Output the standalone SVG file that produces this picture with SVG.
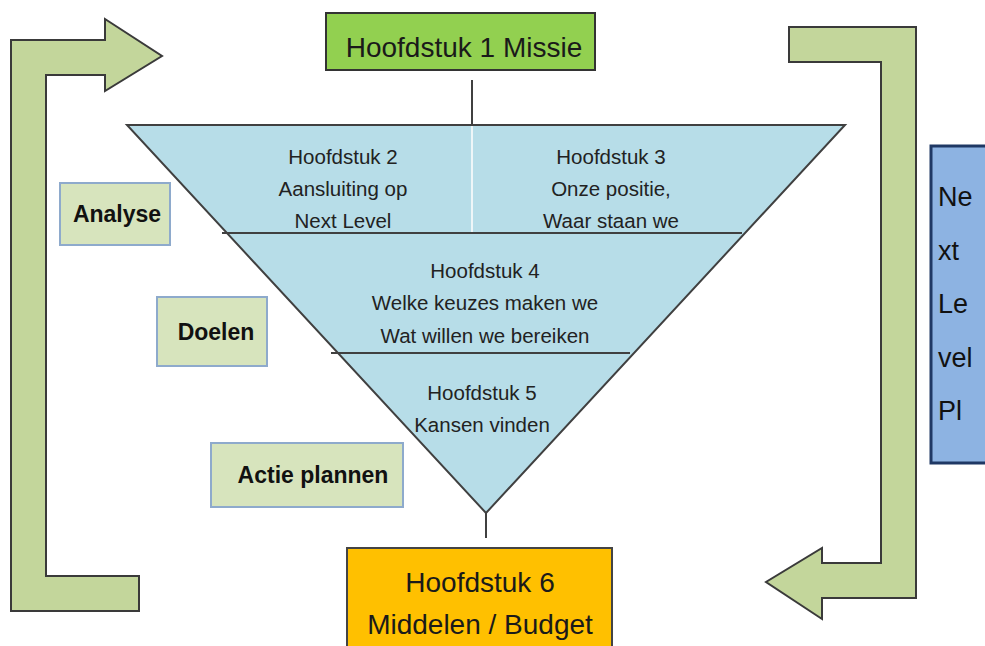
<svg xmlns="http://www.w3.org/2000/svg" width="985" height="646" viewBox="0 0 985 646">
<style>
.arrow{fill:#c3d69b;stroke:#3a3a3a;stroke-width:2}
.lbl{fill:#d7e4bd;stroke:#8eaacc;stroke-width:2}
.lt{font-family:"Liberation Sans",Arial,sans-serif;font-weight:bold;font-size:23px;fill:#111;text-anchor:middle}
.tt{font-family:"Liberation Sans",Arial,sans-serif;font-size:20.5px;fill:#222;text-anchor:middle}
.bt{font-family:"Liberation Sans",Arial,sans-serif;font-size:28px;fill:#1a1a1a;text-anchor:middle}
.nt{font-family:"Liberation Sans",Arial,sans-serif;font-size:27px;fill:#111}
.ln{stroke:#404040;stroke-width:2;fill:none}
</style>
<rect width="985" height="646" fill="#fff"/>
<g id="arrow-left"><polygon class="arrow" points="11,611 139,611 139,576 46,576 46,75 105,75 105,91 162,56 105,19 105,40 11,40"/></g>
<g id="arrow-right"><polygon class="arrow" points="789,27 916,27 916,598 822,598 822,619 766,582 822,548 822,563 881,563 881,62 789,62"/></g>
<g id="connectors">
<line class="ln" x1="472" y1="80" x2="472" y2="125"/>
<line class="ln" x1="486" y1="513" x2="486" y2="538" stroke="#555"/>
</g>
<g id="funnel">
<polygon points="127,125 845,125 486,513" fill="#b7dde8" stroke="#404040" stroke-width="2"/>
<line x1="472" y1="126" x2="472" y2="233" stroke="#eef6f8" stroke-width="2"/>
<line class="ln" x1="222" y1="233" x2="742" y2="233"/>
<line class="ln" x1="331" y1="353" x2="630" y2="353"/>
</g>
<g id="h2"><text class="tt" x="343" y="164">Hoofdstuk 2</text><text class="tt" x="343" y="196">Aansluiting op</text><text class="tt" x="343" y="228">Next Level</text></g>
<g id="h3"><text class="tt" x="611" y="164">Hoofdstuk 3</text><text class="tt" x="611" y="196">Onze positie,</text><text class="tt" x="611" y="228">Waar staan we</text></g>
<g id="h4"><text class="tt" x="485" y="278">Hoofdstuk 4</text><text class="tt" x="485" y="310">Welke keuzes maken we</text><text class="tt" x="485" y="343">Wat willen we bereiken</text></g>
<g id="h5"><text class="tt" x="482" y="400">Hoofdstuk 5</text><text class="tt" x="482" y="432">Kansen vinden</text></g>
<g id="h1"><rect x="326" y="13" width="269" height="57" fill="#92d050" stroke="#333" stroke-width="2"/><text class="bt" x="464" y="57">Hoofdstuk 1 Missie</text></g>
<g id="h6"><rect x="347" y="548" width="265" height="110" fill="#ffc000" stroke="#444" stroke-width="2"/><text class="bt" x="480" y="592">Hoofdstuk 6</text><text class="bt" x="480" y="634">Middelen / Budget</text></g>
<g id="analyse"><rect class="lbl" x="60" y="183" width="110" height="62"/><text class="lt" x="117" y="222">Analyse</text></g>
<g id="doelen"><rect class="lbl" x="157" y="297" width="110" height="69"/><text class="lt" x="216" y="340">Doelen</text></g>
<g id="actie"><rect class="lbl" x="211" y="443" width="192" height="64"/><text class="lt" x="313" y="483">Actie plannen</text></g>
<g id="nextlevel"><rect x="931" y="146" width="70" height="317" fill="#8db3e2" stroke="#1f3864" stroke-width="3"/>
<text class="nt" x="938" y="206">Ne</text><text class="nt" x="938" y="260">xt</text><text class="nt" x="938" y="313">Le</text><text class="nt" x="938" y="367">vel</text><text class="nt" x="938" y="420">Pl</text></g>
</svg>
